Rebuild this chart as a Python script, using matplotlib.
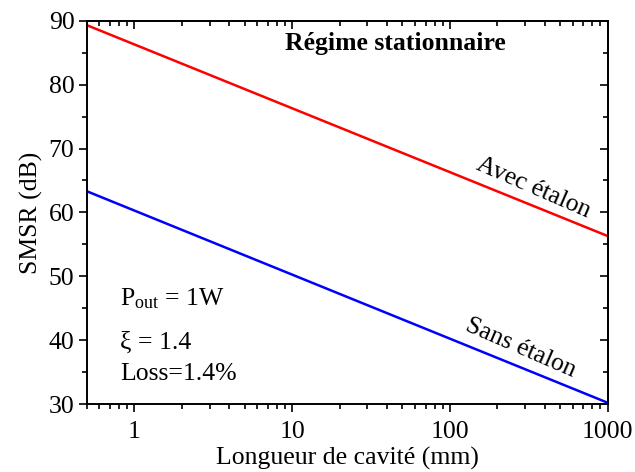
import matplotlib
matplotlib.use("Agg")
import matplotlib.pyplot as plt
from matplotlib.ticker import MultipleLocator, LogLocator, NullFormatter

plt.rcParams['font.family'] = ['Liberation Serif', 'DejaVu Serif']
plt.rcParams['mathtext.fontset'] = 'custom'
plt.rcParams['mathtext.rm'] = 'Liberation Serif'
plt.rcParams['mathtext.it'] = 'Liberation Serif:italic'

# data (cavity length in mm, SMSR in dB)
length_mm = [0.5, 1000]
smsr_avec = [89.3, 56.3]
smsr_sans = [63.3, 30.2]

FS = 18.5

fig = plt.figure(figsize=(6.35, 4.72), dpi=100)
ax = fig.add_axes([0.137, 0.144, 0.820, 0.812])

ax.plot(length_mm, smsr_avec, color='#ff0000', lw=1.8)
ax.plot(length_mm, smsr_sans, color='#0000ff', lw=1.8)

ax.set_xscale('log')
ax.set_xlim(0.5, 1000)
ax.set_ylim(30, 90)
ax.set_xticks([1, 10, 100, 1000])
ax.set_xticklabels(['1', '10', '100', '1000'])
ax.xaxis.set_minor_locator(LogLocator(base=10, subs=range(2, 10)))
ax.xaxis.set_minor_formatter(NullFormatter())
ax.yaxis.set_major_locator(MultipleLocator(10))
ax.yaxis.set_minor_locator(MultipleLocator(5))

ax.tick_params(which='both', direction='out', width=1.2, labelsize=FS, colors='black')
ax.tick_params(which='major', length=6, pad=3)
ax.tick_params(axis='x', which='major', pad=6)
ax.tick_params(which='minor', length=3.5)
for s in ax.spines.values():
    s.set_linewidth(1.4)

# top and right inward ticks
top = ax.secondary_xaxis('top')
top.set_xscale('log')
top.set_xticks([1, 10, 100, 1000])
top.xaxis.set_minor_locator(LogLocator(base=10, subs=range(2, 10)))
top.xaxis.set_minor_formatter(NullFormatter())
top.tick_params(which='both', direction='in', labeltop=False, width=1.2)
top.tick_params(which='major', length=6)
top.tick_params(which='minor', length=3.5)
top.spines['top'].set_linewidth(1.4)

right = ax.secondary_yaxis('right')
right.yaxis.set_major_locator(MultipleLocator(10))
right.yaxis.set_minor_locator(MultipleLocator(5))
right.tick_params(which='both', direction='in', labelright=False, width=1.2)
right.tick_params(which='major', length=6)
right.tick_params(which='minor', length=3.5)
right.spines['right'].set_linewidth(1.4)

ax.set_xlabel('Longueur de cavité (mm)', fontsize=FS, labelpad=3)
ax.set_ylabel('SMSR (dB)', fontsize=FS, labelpad=4)

ax.text(0.593, 0.940, 'Régime stationnaire', transform=ax.transAxes,
        ha='center', va='center', fontsize=FS, fontweight='bold')

ax.text(340, 63.8, 'Avec étalon', rotation=-23.5, ha='center', va='center',
        fontsize=FS, rotation_mode='anchor')
ax.text(281, 38.8, 'Sans étalon', rotation=-23.5, ha='center', va='center',
        fontsize=FS, rotation_mode='anchor')

ax.text(0.063, 0.275, r'P$_{\rm out}$ = 1W', transform=ax.transAxes,
        ha='left', va='center', fontsize=FS)
ax.text(0.063, 0.16, 'ξ = 1.4', transform=ax.transAxes,
        ha='left', va='center', fontsize=FS)
ax.text(0.063, 0.078, 'Loss=1.4%', transform=ax.transAxes,
        ha='left', va='center', fontsize=FS)

fig.savefig('out.png', dpi=100)
